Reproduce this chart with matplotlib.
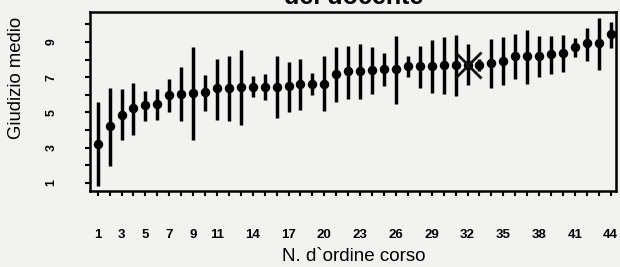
import numpy as np
import matplotlib
matplotlib.use("Agg")
import matplotlib.pyplot as plt
from matplotlib.ticker import FixedLocator

plt.rcParams['font.family'] = ['Liberation Sans', 'DejaVu Sans']

# ===== dati =====
corso = np.arange(1, 45)
media = [3.20, 4.20, 4.86, 5.24, 5.40, 5.47, 5.97, 6.04, 6.08, 6.14,
         6.36, 6.36, 6.45, 6.45, 6.45, 6.45, 6.49, 6.61, 6.63, 6.63,
         7.19, 7.33, 7.33, 7.39, 7.46, 7.46, 7.61, 7.63, 7.65, 7.67,
         7.67, 7.70, 7.70, 7.80, 7.93, 8.18, 8.18, 8.22, 8.31, 8.37,
         8.71, 8.94, 8.94, 9.45]
massimo = [5.57, 6.36, 6.34, 6.66, 6.23, 6.34, 6.89, 7.57, 8.69, 7.14,
           8.05, 8.18, 8.56, 7.05, 7.19, 8.18, 7.86, 8.03, 7.23, 8.18,
           8.69, 8.78, 8.88, 8.69, 8.37, 9.32, 8.22, 8.75, 9.12, 9.26,
           9.41, 8.90, 8.05, 9.16, 9.26, 9.47, 9.69, 9.32, 9.32, 9.37,
           9.22, 9.79, 10.36, 10.13]
minimo = [0.80, 1.97, 3.41, 3.73, 4.52, 4.56, 5.00, 4.49, 3.44, 5.09,
          4.56, 4.49, 4.26, 5.85, 5.68, 4.68, 5.02, 5.15, 5.97, 5.06,
          5.59, 5.77, 5.74, 6.06, 6.51, 5.49, 6.99, 6.38, 6.10, 6.04,
          5.91, 6.53, 7.35, 6.38, 6.57, 6.89, 6.63, 7.00, 7.19, 7.29,
          8.14, 7.90, 7.42, 8.65]
corso_evidenziato = 32
x_etichette = [1, 3, 5, 7, 9, 11, 14, 17, 20, 23, 26, 29, 32, 35, 38, 41, 44]
y_etichette = [1, 3, 5, 7, 9]

sfondo = '#f2f2f0'

# ===== figura =====
fig = plt.figure(figsize=(6.2, 2.67), dpi=100, facecolor=sfondo)
ax = fig.add_axes([90/620, 1 - 190.7/267, 526/620, (190.7 - 12)/267])
ax.set_facecolor(sfondo)

ax.vlines(corso, minimo, massimo, color='black', lw=2.5)
ax.plot(corso, media, 'o', color='black', ms=5.8)
i = corso_evidenziato - 1
ax.plot(corso[i], media[i], 'x', color='#111111', ms=19, mew=2.0)

ax.set_xlim(0.36, 44.44)
ax.set_ylim(0.55, 10.70)

ax.xaxis.set_major_locator(FixedLocator(x_etichette))
ax.xaxis.set_minor_locator(FixedLocator(corso))
ax.yaxis.set_major_locator(FixedLocator(y_etichette))
ax.yaxis.set_minor_locator(FixedLocator(range(1, 11)))

ax.tick_params(axis='x', which='both', length=3.5, width=1.5, direction='out')
ax.tick_params(axis='x', which='major', pad=24, labelsize=9.5)
ax.tick_params(axis='y', which='both', length=3.5, width=1.5, direction='out')
ax.tick_params(axis='y', which='major', pad=20, labelsize=8.8, labelrotation=90)
for lab in ax.get_xticklabels() + ax.get_yticklabels():
    lab.set_fontweight('bold')
for lab in ax.get_yticklabels():
    lab.set_va('center')

for s in ax.spines.values():
    s.set_linewidth(1.8)

fig.text(353.5/620, 1 - 256.5/267, "N. d`ordine corso", ha='center', va='center', fontsize=13.5)
fig.text(17/620, 1 - 78/267, "Giudizio medio", ha='center', va='center',
         rotation=90, fontsize=13.3)
fig.text(353.5/620, 1 - 4/267, "del docente", ha='center', va='baseline',
         fontsize=18, fontweight='bold')

fig.savefig("out.png", dpi=100, facecolor=sfondo)
